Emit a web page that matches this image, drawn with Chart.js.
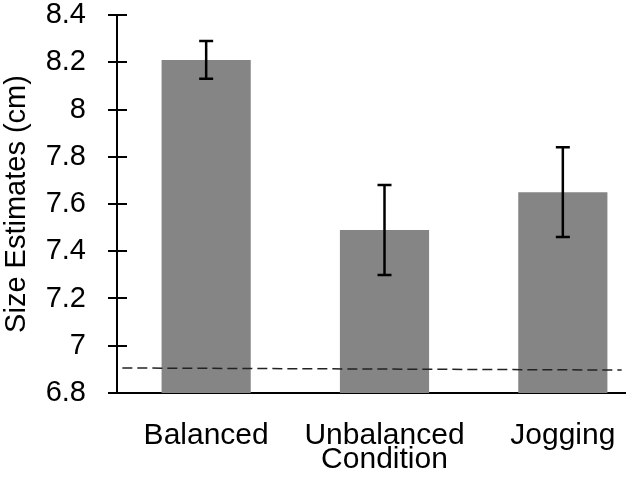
<!DOCTYPE html>
<html>
<head>
<meta charset="utf-8">
<script src="https://cdn.jsdelivr.net/npm/chart.js@4/dist/chart.umd.min.js"></script>
<style>
  html, body { margin: 0; padding: 0; overflow: hidden; background: #fff; }
  /* plot runs a bit past the right edge of the window, like the original */
  #wrap { position: relative; width: 652px; height: 480px; }
</style>
</head>
<body>
<div id="wrap"><canvas id="chart"></canvas></div>
<script>
const categories = ['Balanced', 'Unbalanced', 'Jogging'];
const means = [8.21, 7.49, 7.65];
const errLow = [8.13, 7.30, 7.46];
const errHigh = [8.29, 7.68, 7.84];

// dashed reference line (actual size)
const refLineX = [-0.47, 2.33];
const refLineY = [6.906, 6.897];

const yTicks = [6.8, 7, 7.2, 7.4, 7.6, 7.8, 8, 8.2, 8.4];

const FONT = 'Liberation Sans, Arial, sans-serif';

const errorBars = {
  id: 'errorBars',
  afterDatasetsDraw(chart) {
    const ctx = chart.ctx;
    const x = chart.scales.x, y = chart.scales.y;
    ctx.save();
    ctx.strokeStyle = '#000';
    ctx.lineWidth = 2.5;
    means.forEach((m, i) => {
      const px = x.getPixelForValue(i);
      const top = y.getPixelForValue(errHigh[i]);
      const bot = y.getPixelForValue(errLow[i]);
      ctx.beginPath();
      ctx.moveTo(px, top); ctx.lineTo(px, bot);
      ctx.moveTo(px - 7, top); ctx.lineTo(px + 7, top);
      ctx.moveTo(px - 7, bot); ctx.lineTo(px + 7, bot);
      ctx.stroke();
    });
    ctx.restore();
  }
};

// y tick marks cross the axis line
const crossTicks = {
  id: 'crossTicks',
  afterDraw(chart) {
    const ctx = chart.ctx;
    const y = chart.scales.y;
    const ax = chart.chartArea.left;
    ctx.save();
    ctx.strokeStyle = '#000';
    ctx.lineWidth = 2;
    yTicks.forEach(v => {
      const py = Math.round(y.getPixelForValue(v));
      ctx.beginPath();
      ctx.moveTo(ax - 9, py); ctx.lineTo(ax + 10, py);
      ctx.stroke();
    });
    ctx.restore();
  }
};

new Chart(document.getElementById('chart'), {
  type: 'bar',
  data: {
    datasets: [
      {
        type: 'line',
        data: refLineX.map((v, i) => ({x: v, y: refLineY[i]})),
        borderColor: '#222',
        borderWidth: 1.5,
        borderDash: [10, 5],
        pointRadius: 0,
        fill: false,
        clip: false,
        order: 0
      },
      {
        data: means.map((m, i) => ({x: i, y: m})),
        backgroundColor: '#858585',
        borderWidth: 0,
        barPercentage: 0.5,
        categoryPercentage: 1.0,
        order: 1
      }
    ]
  },
  options: {
    responsive: true,
    maintainAspectRatio: false,
    animation: false,
    layout: { padding: { left: 0, right: 0, top: 15, bottom: 0 } },
    plugins: {
      legend: { display: false },
      tooltip: { enabled: false }
    },
    scales: {
      x: {
        type: 'linear',
        min: -0.5,
        max: 2.5,
        offset: false,
        afterFit: s => { s.height = 87; s.paddingLeft = 0; s.paddingRight = 0; },
        afterBuildTicks: s => { s.ticks = categories.map((c, i) => ({value: i})); },
        grid: { display: false },
        border: { display: true, color: '#000', width: 2 },
        ticks: {
          padding: 17,
          color: '#000',
          font: { family: FONT, size: 30 },
          callback: v => categories[v]
        },
        title: {
          display: true,
          text: 'Condition',
          color: '#000',
          font: { family: FONT, size: 30 },
          padding: { top: 0, bottom: 2 }
        }
      },
      y: {
        min: 6.8,
        max: 8.4,
        afterFit: s => { s.width = 117; s.paddingTop = 0; s.paddingBottom = 0; },
        afterBuildTicks: s => { s.ticks = yTicks.map(v => ({value: v})); },
        grid: { display: false },
        border: { display: true, color: '#000', width: 2 },
        ticks: {
          padding: 23,
          color: '#000',
          font: { family: FONT, size: 29, lineHeight: 1 },
          callback: v => String(parseFloat(v.toFixed(1)))
        },
        title: {
          display: true,
          text: 'Size Estimates (cm)',
          color: '#000',
          font: { family: FONT, size: 29 },
          padding: { top: 0, bottom: 0 }
        }
      }
    }
  },
  plugins: [errorBars, crossTicks]
});
</script>
</body>
</html>
